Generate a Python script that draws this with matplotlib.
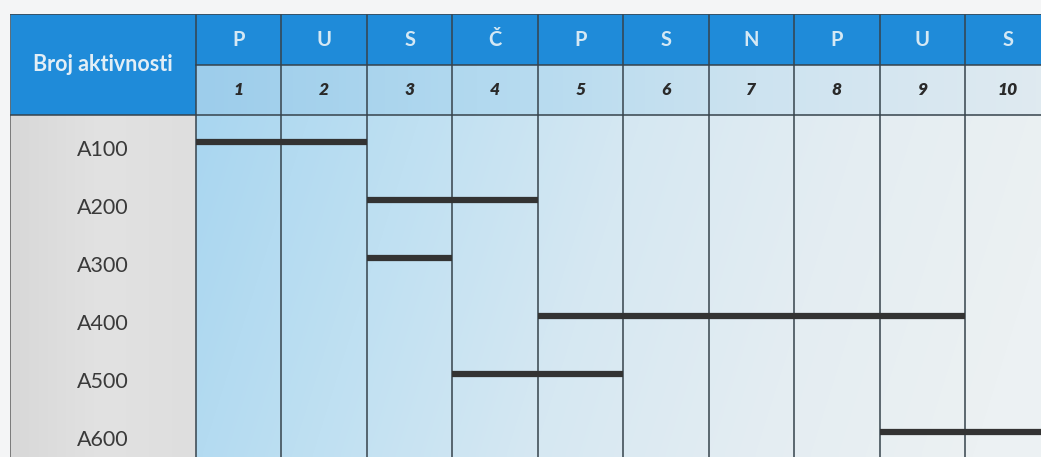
import numpy as np
import matplotlib.pyplot as plt
from matplotlib.colors import LinearSegmentedColormap

plt.rcParams['font.family'] = ['Lato', 'DejaVu Sans']

# Data: activities and their start / end day (inclusive)
activities = ['A100', 'A200', 'A300', 'A400', 'A500', 'A600']
start_day = [1, 3, 3, 5, 4, 9]
end_day = [2, 4, 3, 9, 5, 10]
days = [1, 2, 3, 4, 5, 6, 7, 8, 9, 10]
day_letters = ['P', 'U', 'S', 'Č', 'P', 'S', 'N', 'P', 'U', 'S']
header_title = 'Broj aktivnosti'

W, H = 1041, 457
fig = plt.figure(figsize=(W / 100, H / 100), dpi=100)
fig.patch.set_facecolor('#f4f5f6')

# one axes for the table: x in days (label column on negative side), y in rows
left_px, top_px = 10, 14
col_w = 85.44
row_h = 58.0
x0 = -(196 - left_px) / col_w
x1 = (W - 196) / col_w
y_top = -0.5 - (115 - top_px) / row_h
y_bot = -0.5 + (H - 115) / row_h
ax = fig.add_axes([left_px / W, 0, (W - left_px) / W, (H - top_px) / H])
ax.set_xlim(x0, x1)
ax.set_ylim(y_bot, y_top)
ax.axis('off')

h1 = -0.5 - 50 / row_h  # boundary between the two header rows

# body gradient (blue on the left fading to near white on the right)
cmap = LinearSegmentedColormap.from_list(
    'body', ['#a9d6f0', '#bfe0f2', '#d6e8f2', '#e4edf2', '#ecf1f3'])
gx = np.linspace(0, 1, 200)
gy = np.linspace(0, 1, 60)
gxx, gyy = np.meshgrid(gx, gy)
grad = np.clip(gxx * 0.95 + gyy * 0.12, 0, 1)
ax.imshow(grad, cmap=cmap, extent=[0, x1, y_bot, -0.5], aspect='auto',
          interpolation='bilinear', zorder=0)

# header row 2 gradient
cmap2 = LinearSegmentedColormap.from_list(
    'hdr', ['#9dcdeb', '#b2d9ef', '#cde3f0', '#dfeaf0'])
ax.imshow(gx[None, :], cmap=cmap2, extent=[0, x1, -0.5, h1], aspect='auto',
          interpolation='bilinear', zorder=0)

# header row 1 and title block
ax.fill_between([0, x1], y_top, h1, color='#1f8bd9', zorder=1, lw=0)
ax.fill_between([x0, 0], y_top, -0.5, color='#1f8bd9', zorder=1, lw=0)

# label column (light grey)
cmap3 = LinearSegmentedColormap.from_list('lab', ['#d8d8d8', '#e2e2e2', '#dedede'])
ax.imshow(gx[None, :], cmap=cmap3, extent=[x0, 0, y_bot, -0.5], aspect='auto',
          interpolation='bilinear', zorder=0)

# grid lines
line_c = '#36434c'
for d in range(0, len(days) + 1):
    ax.plot([d, d], [y_top, y_bot], color=line_c, lw=1.1, zorder=3)
ax.plot([x0, x0], [y_top, y_bot], color='#6a6a6a', lw=1.2, zorder=3)
ax.plot([x0, x1], [y_top, y_top], color='#3a4a56', lw=1.2, zorder=3)
ax.plot([0, x1], [h1, h1], color=line_c, lw=1.1, zorder=3)
ax.plot([x0, x1], [-0.5, -0.5], color=line_c, lw=1.1, zorder=3)

# header texts
ax.text(x0 / 2, (y_top - 0.5) / 2, header_title, ha='center', va='center',
        fontsize=15.5, fontweight='bold', color='#e2eef6', zorder=4)
for d, letter in zip(days, day_letters):
    ax.text(d - 0.5, (y_top + h1) / 2, letter, ha='center', va='center',
            fontsize=14.5, fontweight='bold', color='#d4e8f4', zorder=4)
    ax.text(d - 0.5, (h1 - 0.5) / 2, str(d), ha='center', va='center',
            fontsize=12.5, fontweight='heavy', fontstyle='italic', color='#2a2a2a',
            zorder=4)

# activity labels and bars
for i, (name, s, e) in enumerate(zip(activities, start_day, end_day)):
    ax.text(x0 / 2, i + 0.1, name, ha='center', va='center', fontsize=15.5,
            color='#3a3a3a', zorder=4)
    ax.plot([s - 1, e], [i - 0.03, i - 0.03], color='#333333', lw=4.5,
            solid_capstyle='butt', zorder=5)

fig.savefig('out.png', dpi=100)
